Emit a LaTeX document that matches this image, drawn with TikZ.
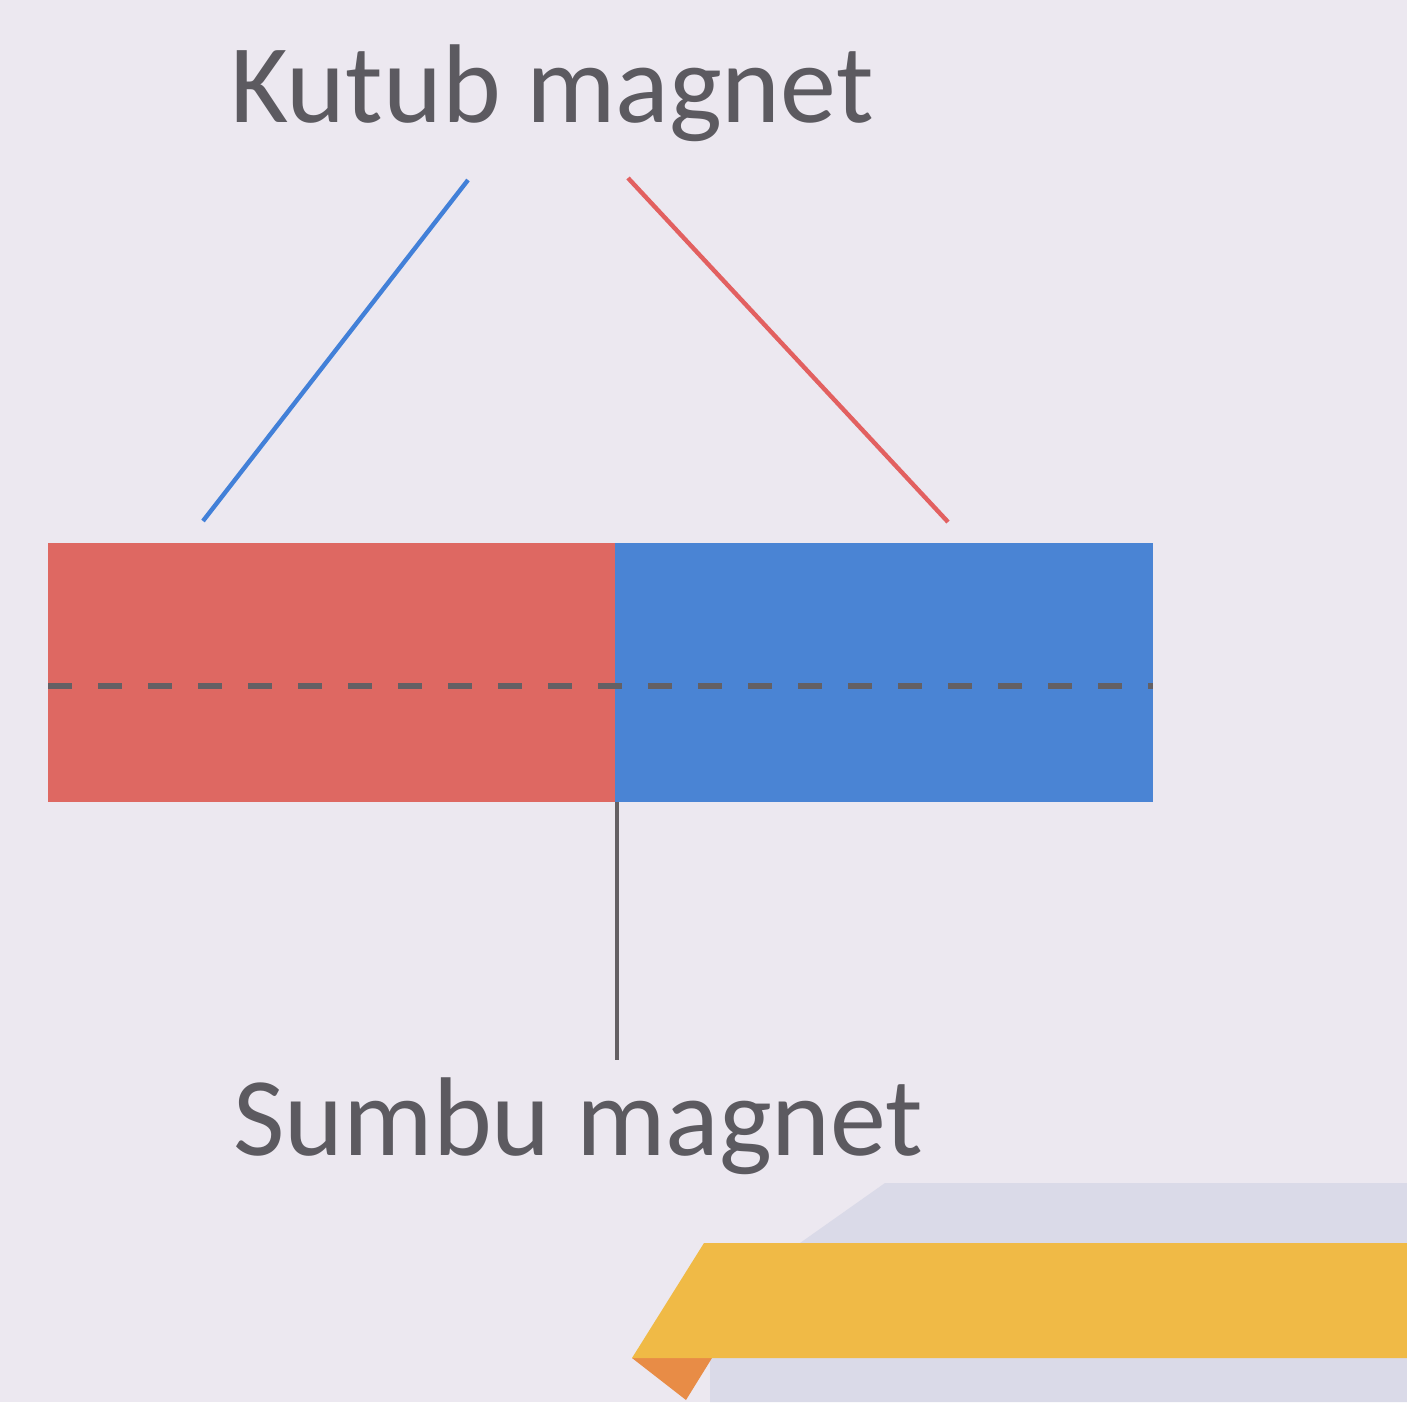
\documentclass[tikz,border=0pt]{standalone}
\usepackage{fontspec}
\setmainfont{Carlito}
\definecolor{bg}{RGB}{236,232,240}
\definecolor{magred}{RGB}{222,104,98}
\definecolor{magblue}{RGB}{74,132,212}
\definecolor{lineblue}{RGB}{66,128,216}
\definecolor{linered}{RGB}{226,96,96}
\definecolor{txt}{RGB}{92,90,96}
\definecolor{axisgray}{RGB}{100,96,100}
\definecolor{bandgray}{RGB}{218,218,232}
\definecolor{bandorange}{RGB}{240,186,70}
\definecolor{foldorange}{RGB}{232,140,70}
\begin{document}
\begin{tikzpicture}[x=0.5pt,y=-0.5pt,
  label/.style={font=\fontsize{56}{60}\selectfont, text=txt, inner sep=0pt, anchor=base west},
  pointer/.style={line width=2.2pt},
  pole/.style={draw=none}]
\useasboundingbox (0,0) rectangle (1407,1402);
\fill[bg] (0,0) rectangle (1407,1402);
% decorative band bottom right
\fill[bandgray] (885,1183) -- (1407,1183) -- (1407,1402) -- (710,1402) -- (710,1360) -- (800,1243) -- cycle;
\fill[foldorange] (632,1358) -- (712,1358) -- (686,1400) -- cycle;
\fill[bandorange] (704,1243) -- (1407,1243) -- (1407,1358) -- (632,1358) -- cycle;
% magnet
\node[pole, fill=magred, minimum width=283.5pt, minimum height=129.5pt, inner sep=0pt, anchor=north west] (south) at (48,543) {};
\node[pole, fill=magblue, minimum width=269pt, minimum height=129.5pt, inner sep=0pt, anchor=north west] (north) at (615,543) {};
\coordinate (axl) at (48,686);
\coordinate (axr) at (1153,686);
\draw[axisgray, line width=3pt, dash pattern=on 12pt off 13pt] (axl) -- (axr);
% labels
\node[label] (kutub) at (230,122) {Kutub magnet};
\node[label] (sumbu) at (233,1155) {Sumbu magnet};
\coordinate (b1) at (468,180);
\coordinate (b2) at (203,521);
\coordinate (r1) at (628,178);
\coordinate (r2) at (948,522);
\coordinate (ax1) at (617,802);
\coordinate (ax2) at (617,1060);
\draw[pointer, lineblue] (b1) -- (b2);
\draw[pointer, linered] (r1) -- (r2);
\draw[pointer, axisgray] (ax1) -- (ax2);
\end{tikzpicture}
\end{document}
